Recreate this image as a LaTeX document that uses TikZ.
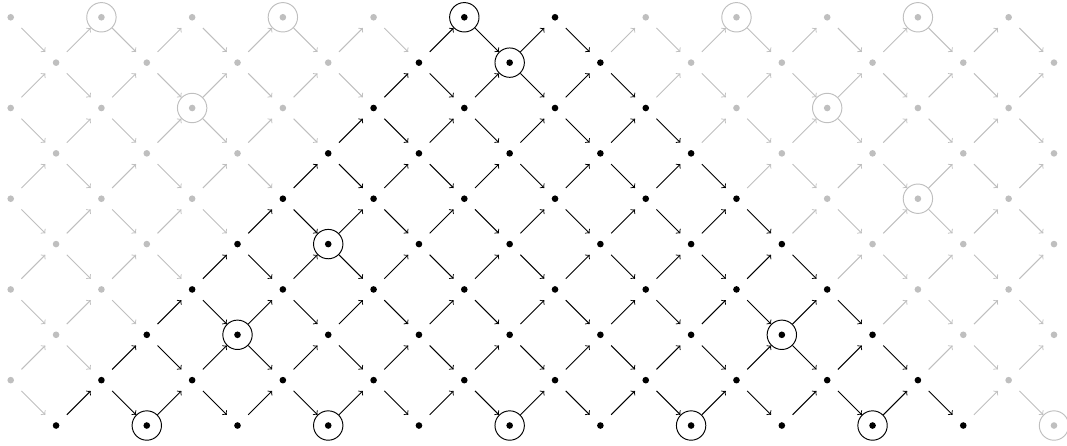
\documentclass[tikz,border=0pt]{standalone}
\usetikzlibrary{calc}

\tikzset{
  pt/.style={circle,minimum size=0.648cm,inner sep=0pt},
}

\begin{document}
\begin{tikzpicture}[line width=0.6pt]
  \useasboundingbox (-0.236,-0.441) rectangle (23.287,9.381);
  \foreach \i in {0,...,23} {
    \foreach \j in {0,...,9} {
      \ifodd\numexpr\i+\j\relax
        \pgfmathtruncatemacro\ins{and(\i-\j>=1,\i+\j<=21)}
        \ifnum\ins=1 \def\col{black}\else\def\col{gray!50}\fi
        \node[pt] (n-\i-\j) at (\i,\j) {};
        \fill[\col] (n-\i-\j.center) circle(0.073);
      \fi
    }
  }
  \foreach \i in {0,...,22} {
    \foreach \j in {0,...,9} {
      \ifodd\numexpr\i+\j\relax
        \pgfmathtruncatemacro\k{\i+1}
        \ifnum\j<9
          \pgfmathtruncatemacro\u{\j+1}
          \pgfmathtruncatemacro\ins{and(\i-\j>=1,\i+\j<=19)}
          \ifnum\ins=1 \def\col{black}\else\def\col{gray!50}\fi
          \draw[->,\col] (n-\i-\j) -- (n-\k-\u);
        \fi
        \ifnum\j>0
          \pgfmathtruncatemacro\d{\j-1}
          \pgfmathtruncatemacro\ins{and(\i-\j>=1,\i+\j<=21)}
          \ifnum\ins=1 \def\col{black}\else\def\col{gray!50}\fi
          \draw[->,\col] (n-\i-\j) -- (n-\k-\d);
        \fi
      \fi
    }
  }
  \foreach \i/\j in {3/0,7/0,11/0,15/0,19/0,5/2,17/2,7/4,11/8,10/9}
    \draw (n-\i-\j.center) circle(0.324);
  \foreach \i/\j in {2/9,6/9,16/9,20/9,4/7,18/7,20/5,23/0}
    \draw[gray!50] (n-\i-\j.center) circle(0.324);
\end{tikzpicture}
\end{document}
